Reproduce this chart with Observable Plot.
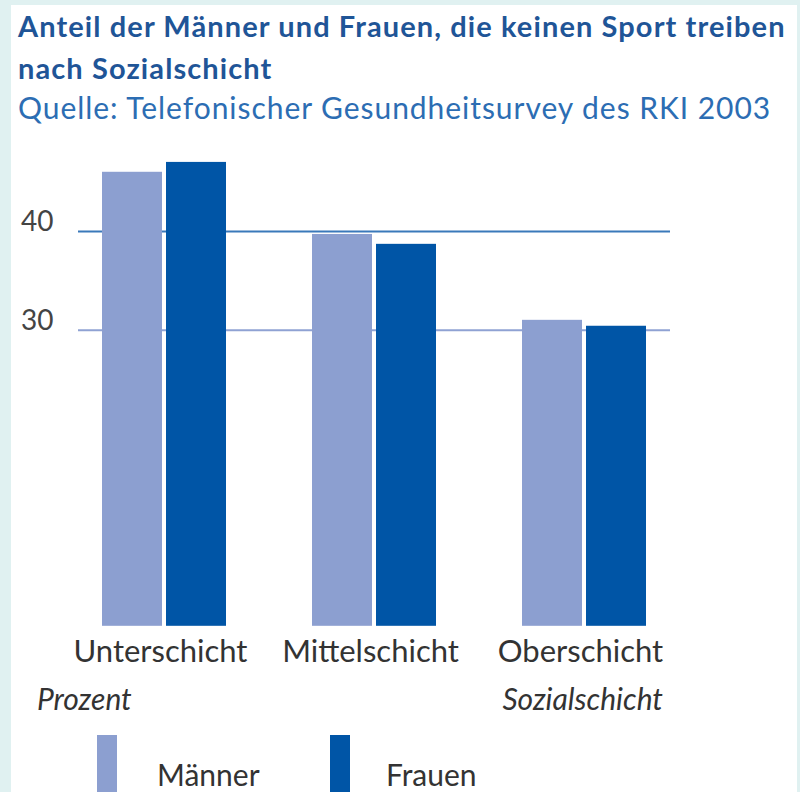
<!DOCTYPE html>
<html>
<head>
<meta charset="utf-8">
<script src="https://cdn.jsdelivr.net/npm/d3@7"></script>
<script src="https://cdn.jsdelivr.net/npm/@observablehq/plot@0.6"></script>
<style>
  html, body { margin: 0; padding: 0; background: #e0f1f1; }
  #panel { position: absolute; left: 11px; top: 5px; width: 786px; height: 787px; background: #fff; overflow: hidden; font-family: Lato, sans-serif; }
  #title { position: absolute; left: 7px; top: 0px; font-weight: bold; font-size: 29px; letter-spacing: 1.1px; line-height: 42px; color: #1f5597; white-space: nowrap; }
  #source { position: absolute; left: 7px; top: 83px; font-size: 30px; letter-spacing: 0.95px; line-height: 38px; color: #2c6db3; white-space: nowrap; }
  #chart { position: absolute; left: 0; top: 120px; }
  .cap { position: absolute; top: 675px; font-style: italic; font-size: 30px; color: #333; white-space: nowrap; }
  #prozent { left: 26px; }
  #sozial { right: 134px; }
  .sw { position: absolute; top: 730px; width: 20px; height: 57px; }
  .lt { position: absolute; top: 751px; font-size: 30px; color: #333; white-space: nowrap; }
</style>
</head>
<body>
<div id="panel">
  <div id="title">Anteil der Männer und Frauen, die keinen Sport treiben<br>nach Sozialschicht</div>
  <div id="source">Quelle: Telefonischer Gesundheitsurvey des RKI 2003</div>
  <div id="chart"></div>
  <div class="cap" id="prozent">Prozent</div>
  <div class="cap" id="sozial">Sozialschicht</div>
  <div id="legend"></div>
</div>
<script>
const schichten = ["Unterschicht", "Mittelschicht", "Oberschicht"];
const maenner = [46.0, 39.7, 31.0];
const frauen = [47.0, 38.7, 30.4];
const gridTicks = [30, 40];
const serien = ["Männer", "Frauen"];

const colM = "#8c9fd0";
const colF = "#0055a6";

const data = schichten.map((s, i) => ({schicht: s, Männer: maenner[i], Frauen: frauen[i]}));

const chart = Plot.plot({
  width: 786,
  height: 560,
  marginLeft: 67,
  marginRight: 127,
  marginTop: 0,
  marginBottom: 59,
  style: {fontFamily: "Lato, sans-serif", background: "transparent"},
  x: {domain: schichten, range: [90, 636], paddingInner: 0.411, paddingOuter: 0},
  y: {domain: [0, 50], range: [500.8, 7.3]},
  marks: [
    Plot.ruleY([gridTicks[0]], {stroke: "#8fa2d3", strokeWidth: 2}),
    Plot.ruleY([gridTicks[1]], {stroke: "#3a79ba", strokeWidth: 2}),
    Plot.barY(data, {x: "schicht", y: "Männer", fill: colM, insetRight: 64}),
    Plot.barY(data, {x: "schicht", y: "Frauen", fill: colF, insetLeft: 64}),
    Plot.axisY({ticks: gridTicks, tickSize: 0, tickPadding: 25, fontSize: 28, dy: -9, fill: "#444", label: null, tickFormat: d => String(d)}),
    Plot.axisX({tickSize: 0, tickPadding: 13, fontSize: 31, fill: "#333", label: null, dx: -4})
  ]
});
chart.style.fontVariantNumeric = "oldstyle-nums";
document.getElementById("chart").appendChild(chart);

const legend = document.getElementById("legend");
const swX = [86, 319];
const txX = [146, 375];
serien.forEach((name, i) => {
  const sw = document.createElement("div");
  sw.className = "sw";
  sw.style.left = swX[i] + "px";
  sw.style.background = i === 0 ? colM : colF;
  legend.appendChild(sw);
  const t = document.createElement("div");
  t.className = "lt";
  t.style.left = txX[i] + "px";
  t.textContent = name;
  legend.appendChild(t);
});
</script>
</body>
</html>
